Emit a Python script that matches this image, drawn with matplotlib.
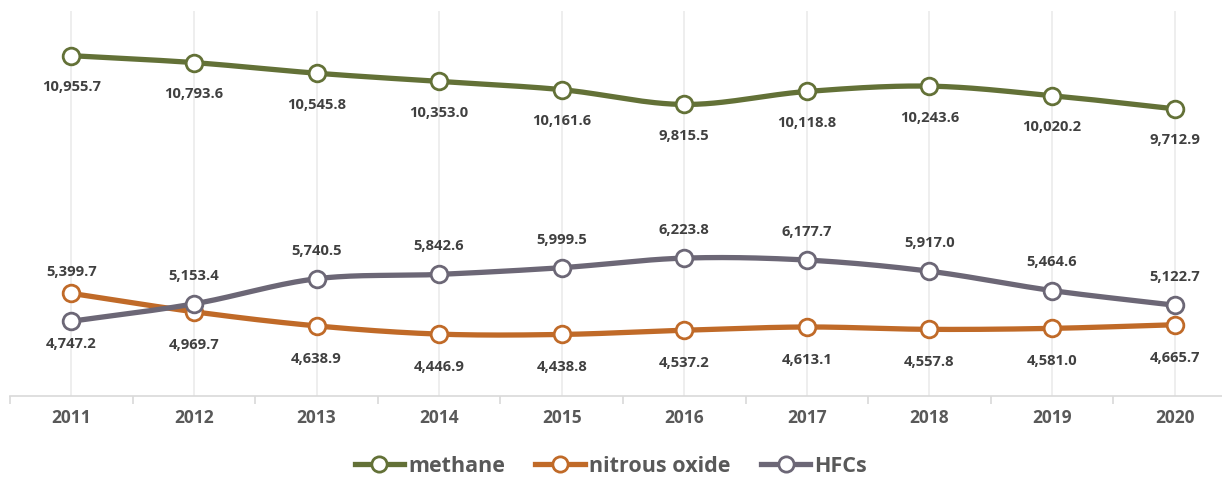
import numpy as np
import matplotlib
matplotlib.use("Agg")
import matplotlib.pyplot as plt
from matplotlib.lines import Line2D

years = ["2011", "2012", "2013", "2014", "2015", "2016", "2017", "2018", "2019", "2020"]
methane = [10955.7, 10793.6, 10545.8, 10353.0, 10161.6, 9815.5, 10118.8, 10243.6, 10020.2, 9712.9]
nitrous_oxide = [5399.7, 4969.7, 4638.9, 4446.9, 4438.8, 4537.2, 4613.1, 4557.8, 4581.0, 4665.7]
hfcs = [4747.2, 5153.4, 5740.5, 5842.6, 5999.5, 6223.8, 6177.7, 5917.0, 5464.6, 5122.7]

series_names = ["methane", "nitrous oxide", "HFCs"]
colors = ["#637137", "#C06A28", "#6C6776"]

plt.rcParams['font.family'] = ['Open Sans', 'DejaVu Sans']

W, H = 1222, 481
fig = plt.figure(figsize=(W / 100, H / 100), dpi=100)
ax_left, ax_right = 10 / W, 1.0
ax_top, ax_bottom = 1 - 12 / H, 1 - 397 / H
ax = fig.add_axes([ax_left, ax_bottom, ax_right - ax_left, ax_top - ax_bottom])
ax.set_xlim(-0.5, 9.5 - (1236 - 1222) / 122.6)
ax.set_ylim(3000, 12000)


def smooth(xs, ys, n=30):
    xs = np.asarray(xs, float)
    ys = np.asarray(ys, float)
    P = np.column_stack([xs, ys])
    P = np.vstack([P[0] - (P[1] - P[0]), P, P[-1] + (P[-1] - P[-2])])
    out = []
    for i in range(1, len(P) - 2):
        p0, p1, p2, p3 = P[i - 1], P[i], P[i + 1], P[i + 2]
        c1 = p1 + (p2 - p0) / 6.0
        c2 = p2 - (p3 - p1) / 6.0
        t = np.linspace(0, 1, n)[:, None]
        seg = ((1 - t) ** 3) * p1 + 3 * ((1 - t) ** 2) * t * c1 + 3 * (1 - t) * t ** 2 * c2 + t ** 3 * p2
        out.append(seg if i == 1 else seg[1:])
    out = np.vstack(out)
    return out[:, 0], out[:, 1]


x = np.arange(len(years))
for xi in x:
    ax.axvline(xi, color="#EBEBEB", lw=1.2, zorder=0)

data = [methane, nitrous_oxide, hfcs]
for vals, c in zip(data, colors):
    sx, sy = smooth(x, vals)
    ax.plot(sx, sy, color=c, lw=3.8, solid_capstyle="round", zorder=2)
    ax.plot(x, vals, ls="none", marker="o", ms=12, mfc="white", mec=c, mew=2.0, zorder=3)

lab_kw = dict(ha="center", va="center", fontsize=10.6, fontweight="bold", color="#404040", zorder=4)
for i, xi in enumerate(x):
    ax.annotate(f"{methane[i]:,.1f}", (xi, methane[i]), xytext=(0, -22), textcoords="offset points", **lab_kw)
    n, h = nitrous_oxide[i], hfcs[i]
    if n > h:
        ax.annotate(f"{n:,.1f}", (xi, n), xytext=(0, 16), textcoords="offset points", **lab_kw)
        ax.annotate(f"{h:,.1f}", (xi, h), xytext=(0, -16), textcoords="offset points", **lab_kw)
    else:
        ax.annotate(f"{h:,.1f}", (xi, h), xytext=(0, 21), textcoords="offset points", **lab_kw)
        ax.annotate(f"{n:,.1f}", (xi, n), xytext=(0, -23), textcoords="offset points", **lab_kw)

for s in ["top", "right", "left"]:
    ax.spines[s].set_visible(False)
ax.spines["bottom"].set_color("#D9D9D9")
ax.spines["bottom"].set_linewidth(1.2)
ax.set_yticks([])
ax.set_xticks(np.arange(-0.5, 9.5, 1.0))
ax.set_xticks(x, minor=True)
ax.tick_params(axis="x", which="major", length=6, color="#D9D9D9", width=1.2, labelbottom=False)
ax.tick_params(axis="x", which="minor", length=0, pad=9)
ax.set_xticklabels(years, minor=True, fontsize=12.5, fontweight="bold", color="#595959")

handles = [Line2D([0], [0], color=c, lw=3.8, marker="o", ms=11, mfc="white", mec=c, mew=2.0)
           for c in colors]
fig.legend(handles, series_names, loc="center", bbox_to_anchor=(0.5, 1 - 467 / H), ncol=3,
           frameon=False, prop=dict(size=15.5, weight="bold"), labelcolor="#595959",
           handlelength=2.3, handletextpad=0.2, columnspacing=1.4)

fig.savefig("out.png", dpi=100)
